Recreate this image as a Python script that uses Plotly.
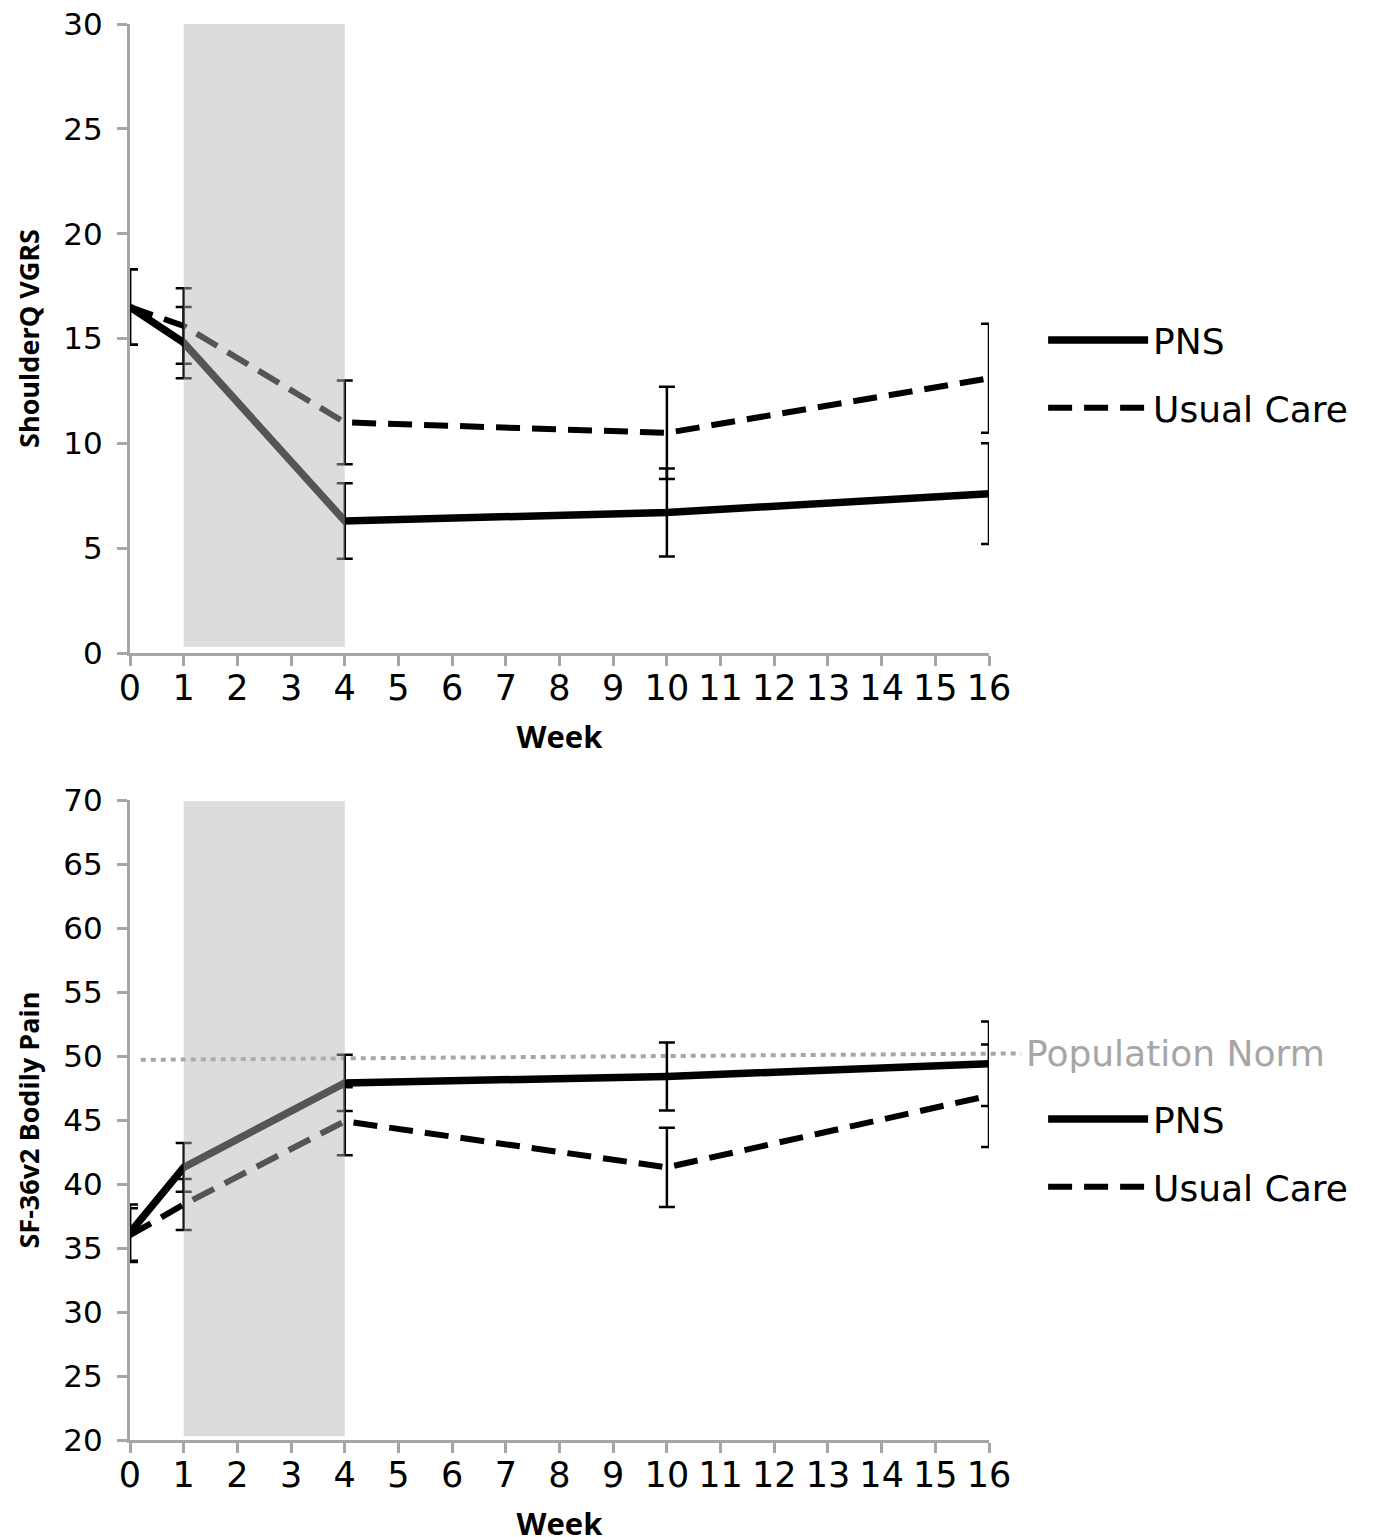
import plotly.graph_objects as go
from plotly.subplots import make_subplots

weeks = [0, 1, 4, 10, 16]

# Top panel: ShoulderQ VGRS
pns_vgrs = [16.5, 14.8, 6.3, 6.7, 7.6]
pns_vgrs_err = [1.8, 1.7, 1.8, 2.1, 2.4]
uc_vgrs = [16.5, 15.6, 11.0, 10.5, 13.1]
uc_vgrs_err = [1.8, 1.8, 2.0, 2.2, 2.6]

# Bottom panel: SF-36v2 Bodily Pain
pns_bp = [36.2, 41.3, 47.9, 48.4, 49.4]
pns_bp_err = [2.2, 1.9, 2.2, 2.65, 3.3]
uc_bp = [36.0, 38.4, 44.9, 41.3, 46.9]
uc_bp_err = [2.1, 2.0, 2.65, 3.1, 4.0]

norm_x = [0.2, 16.6]
norm_y = [49.7, 50.2]

treat_start, treat_end = 1, 4
x_max = 16

W, H = 1376, 1537
OFF = 8  # page body margin
ML, MR, MT, MB = 130 - OFF, 387 + OFF, 24 - OFF, 97 + OFF
ph = H - MT - MB

fig = make_subplots(rows=2, cols=1, vertical_spacing=0.1)

TICKFONT_Y = dict(family="DejaVu Sans", size=31, color="black")
TICKFONT_X = dict(family="DejaVu Sans", size=35, color="black")
TITLEFONT = dict(family="Open Sans", size=27, color="black", weight="bold")
XTITLEFONT = dict(family="Open Sans", size=31, color="black", weight="bold")
LEGFONT = dict(family="DejaVu Sans", size=36, color="black")

err_style = dict(type="data", visible=True, color="black", thickness=2.5, width=8)

def add_series(row, y, err, name, dash, legend, group):
    fig.add_trace(go.Scatter(
        x=weeks, y=y, mode="lines", name=name,
        line=dict(color="black", width=7.5 if dash == "solid" else 6, dash=dash),
        error_y=dict(array=err, **err_style),
        legend=legend, legendgroup=group, showlegend=True,
    ), row=row, col=1)

add_series(1, pns_vgrs, pns_vgrs_err, "PNS", "solid", "legend", "a")
add_series(1, uc_vgrs, uc_vgrs_err, "Usual Care", "24px,12px", "legend", "b")
add_series(2, pns_bp, pns_bp_err, "PNS", "solid", "legend2", "c")
add_series(2, uc_bp, uc_bp_err, "Usual Care", "24px,12px", "legend2", "d")

# population norm reference line (extends slightly past the last week)
fig.add_shape(type="line", xref="paper", yref="y2",
              x0=norm_x[0] / x_max, x1=norm_x[1] / x_max, y0=norm_y[0], y1=norm_y[1],
              line=dict(color="#a6a6a6", width=4, dash="5px,5px"), layer="below")

# shaded treatment period (drawn over lines, semi-transparent)
fig.add_shape(type="rect", xref="x", yref="y", x0=treat_start, x1=treat_end,
              y0=0.3, y1=30, fillcolor="#b5b5b5", opacity=0.47,
              line=dict(width=0), layer="above")
fig.add_shape(type="rect", xref="x2", yref="y2", x0=treat_start, x1=treat_end,
              y0=20.3, y1=69.9, fillcolor="#b5b5b5", opacity=0.47,
              line=dict(width=0), layer="above")

fig.add_annotation(xref="paper", yref="y2", x=(norm_x[1] + 0.05) / x_max, y=norm_y[1],
                   text="Population Norm", showarrow=False, xanchor="left", yanchor="middle",
                   font=dict(family="DejaVu Sans", size=36, color="#a6a6a6"))

axis_common = dict(showline=True, linecolor="#a6a6a6", linewidth=3, ticks="outside",
                   ticklen=10, tickwidth=2.5, tickcolor="#a6a6a6", showgrid=False,
                   zeroline=False, mirror=False, ticklabeloverflow="allow")

top_dom = [(1440 - 653) / ph, (1440 - 24) / ph]
bot_dom = [0.0, (1440 - 800) / ph]

fig.update_xaxes(range=[0, x_max], tickvals=list(range(17)), tickfont=TICKFONT_X,
                 ticklabelstandoff=-8,
                 title=dict(text="Week", font=XTITLEFONT, standoff=20),
                 **axis_common)
fig.update_yaxes(tickfont=TICKFONT_Y, ticklabelstandoff=8, **axis_common)
fig.update_layout(
    yaxis=dict(range=[0, 30], dtick=5, domain=top_dom,
               title=dict(text="ShoulderQ VGRS", font=TITLEFONT, standoff=16)),
    yaxis2=dict(range=[20, 70], dtick=5, domain=bot_dom,
                title=dict(text="SF-36v2 Bodily Pain", font=TITLEFONT, standoff=16)),
    width=W, height=H,
    margin=dict(l=ML, r=MR, t=MT, b=MB, autoexpand=False),
    paper_bgcolor="white", plot_bgcolor="white",
    legend=dict(x=1.063, y=(1440 - 310) / ph, xref="paper", yref="paper", xanchor="left", yanchor="top",
                font=LEGFONT, itemwidth=100, tracegroupgap=18, traceorder="grouped",
                bgcolor="rgba(0,0,0,0)"),
    legend2=dict(x=1.063, y=(1440 - 1089) / ph, xref="paper", yref="paper", xanchor="left", yanchor="top",
                 font=LEGFONT, itemwidth=100, tracegroupgap=18, traceorder="grouped",
                 bgcolor="rgba(0,0,0,0)"),
)

fig.write_html("out.html")
